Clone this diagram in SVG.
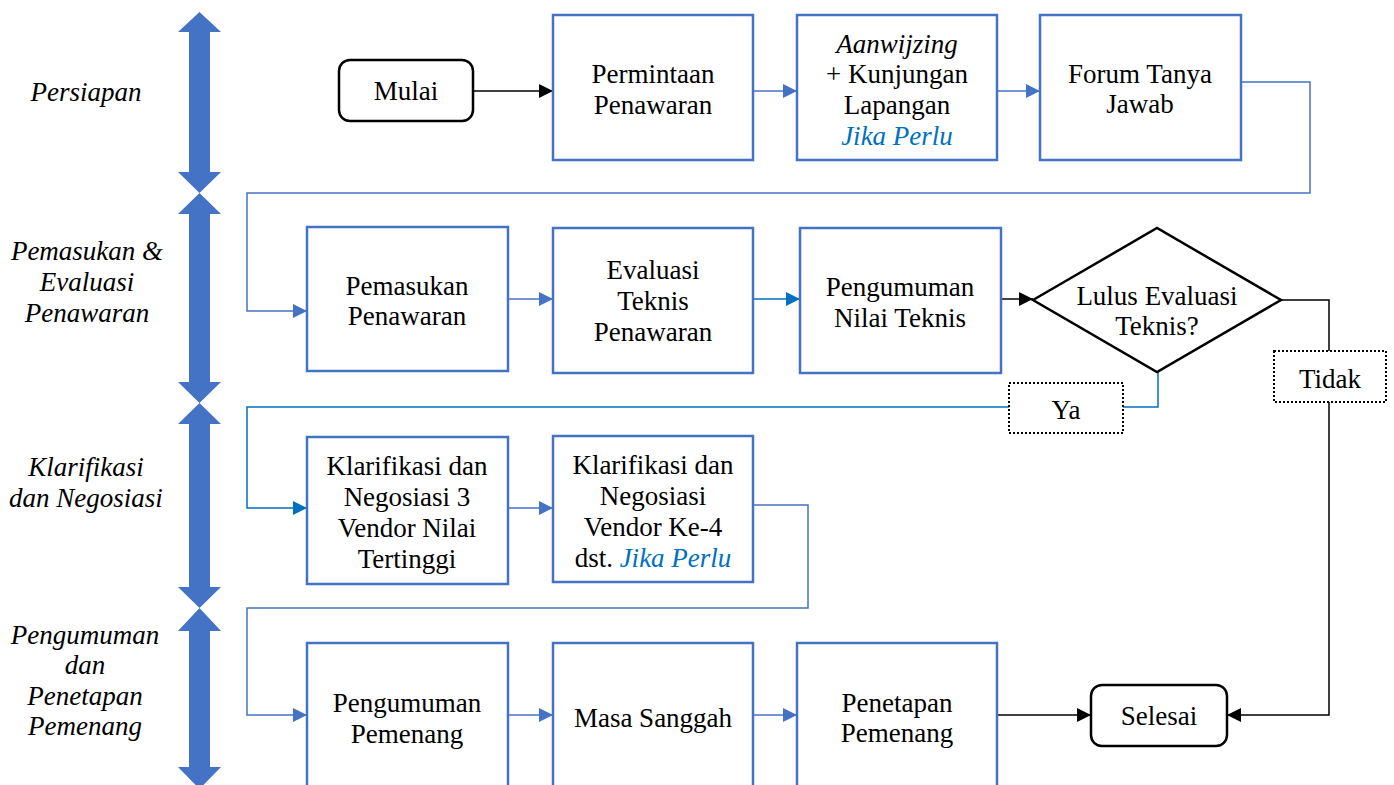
<svg xmlns="http://www.w3.org/2000/svg" width="1394" height="785" viewBox="0 0 1394 785">
<style>
text{font-family:"Liberation Serif","Times New Roman",serif;font-size:27px;fill:#000;text-anchor:middle}
.lbl{font-style:italic}
.it{font-style:italic}
.jp{font-style:italic;fill:#0070C0}
.box{fill:#fff;stroke:#4472C4;stroke-width:2.5}
.term{fill:#fff;stroke:#000;stroke-width:2.5}
.dot{fill:#fff;stroke:#000;stroke-width:2;stroke-dasharray:2 2}
.cb{fill:none;stroke:#4472C4;stroke-width:1.5}
.cc{fill:none;stroke:#0070C0;stroke-width:1.5}
.ck{fill:none;stroke:#000;stroke-width:1.5}
.phase{fill:#4472C4}
</style>
<defs>
<marker id="ab" markerUnits="userSpaceOnUse" markerWidth="14" markerHeight="14" viewBox="0 0 14 14" refX="14" refY="7" orient="auto"><path d="M0,0 L14,7 L0,14 z" fill="#4472C4"/></marker>
<marker id="ac" markerUnits="userSpaceOnUse" markerWidth="14" markerHeight="14" viewBox="0 0 14 14" refX="14" refY="7" orient="auto"><path d="M0,0 L14,7 L0,14 z" fill="#0070C0"/></marker>
<marker id="ak" markerUnits="userSpaceOnUse" markerWidth="14" markerHeight="14" viewBox="0 0 14 14" refX="14" refY="7" orient="auto"><path d="M0,0 L14,7 L0,14 z" fill="#000"/></marker>
</defs>
<rect width="1394" height="785" fill="#fff"/>

<g id="phases">
<polygon class="phase" points="199.5,12 221,32 210,32 210,172 221,172 199.5,193 178,172 189,172 189,32 178,32"/>
<polygon class="phase" points="199.5,193 221,214 210,214 210,382 221,382 199.5,403 178,382 189,382 189,214 178,214"/>
<polygon class="phase" points="199.5,403 221,424 210,424 210,587 221,587 199.5,608 178,587 189,587 189,424 178,424"/>
<polygon class="phase" points="199.5,608 221,631 210,631 210,767 221,767 199.5,789 178,767 189,767 189,631 178,631"/>
<text class="lbl" x="86" y="101">Persiapan</text>
<text class="lbl" x="87" y="260">Pemasukan &amp;</text>
<text class="lbl" x="87" y="291">Evaluasi</text>
<text class="lbl" x="87" y="322">Penawaran</text>
<text class="lbl" x="86" y="476">Klarifikasi</text>
<text class="lbl" x="86" y="507">dan Negosiasi</text>
<text class="lbl" x="85" y="644">Pengumuman</text>
<text class="lbl" x="85" y="674">dan</text>
<text class="lbl" x="85" y="705">Penetapan</text>
<text class="lbl" x="85" y="735">Pemenang</text>
</g>

<g id="connectors">
<path class="ck" d="M473,91 H553" marker-end="url(#ak)"/>
<path class="cb" d="M753,91 H797" marker-end="url(#ab)"/>
<path class="cb" d="M997,91 H1040" marker-end="url(#ab)"/>
<path class="cb" d="M1241,82 H1310 V193 H247 V311 H307" marker-end="url(#ab)"/>
<path class="cb" d="M508,299 H553" marker-end="url(#ab)"/>
<path class="cc" d="M753,299 H800" marker-end="url(#ac)"/>
<path class="ck" d="M1001,299 H1033" marker-end="url(#ak)"/>
<path class="cc" d="M1158,372 V407 H247 V508 H307" marker-end="url(#ac)"/>
<path class="ck" d="M1281,300 H1329 V715 H1227" marker-end="url(#ak)"/>
<path class="cb" d="M508,508 H553" marker-end="url(#ab)"/>
<path class="cb" d="M753,505 H808 V608 H247 V715 H307" marker-end="url(#ab)"/>
<path class="cb" d="M508,715 H553" marker-end="url(#ab)"/>
<path class="cb" d="M753,715 H797" marker-end="url(#ab)"/>
<path class="ck" d="M997,715 H1091" marker-end="url(#ak)"/>
</g>

<g id="mulai"><rect class="term" x="339" y="60" width="134" height="61" rx="11"/><text x="406" y="100">Mulai</text></g>
<g id="permintaan"><rect class="box" x="553" y="15" width="200" height="145"/><text x="653" y="83">Permintaan</text><text x="653" y="114">Penawaran</text></g>
<g id="aanwijzing"><rect class="box" x="797" y="15" width="200" height="145"/><text class="it" x="897" y="53">Aanwijzing</text><text x="897" y="83">+ Kunjungan</text><text x="897" y="114">Lapangan</text><text class="jp" x="897" y="145">Jika Perlu</text></g>
<g id="forum"><rect class="box" x="1040" y="15" width="201" height="145"/><text x="1140" y="83">Forum Tanya</text><text x="1140" y="113">Jawab</text></g>

<g id="pemasukan"><rect class="box" x="307" y="227" width="201" height="144"/><text x="407" y="295">Pemasukan</text><text x="407" y="325">Penawaran</text></g>
<g id="evaluasi"><rect class="box" x="553" y="228" width="200" height="145"/><text x="653" y="279">Evaluasi</text><text x="653" y="310">Teknis</text><text x="653" y="341">Penawaran</text></g>
<g id="pengumuman-nilai"><rect class="box" x="800" y="228" width="201" height="145"/><text x="900" y="296">Pengumuman</text><text x="900" y="327">Nilai Teknis</text></g>
<g id="lulus"><polygon class="term" points="1033,300 1157,228 1281,300 1157,372"/><text x="1157" y="305">Lulus Evaluasi</text><text x="1157" y="335">Teknis?</text></g>
<g id="ya"><rect class="dot" x="1009" y="383" width="114" height="50"/><text x="1066" y="419">Ya</text></g>
<g id="tidak"><rect class="dot" x="1274" y="351" width="112" height="51"/><text x="1330" y="388">Tidak</text></g>

<g id="klarifikasi3"><rect class="box" x="307" y="437" width="201" height="147"/><text x="407" y="475">Klarifikasi dan</text><text x="407" y="506">Negosiasi 3</text><text x="407" y="537">Vendor Nilai</text><text x="407" y="568">Tertinggi</text></g>
<g id="klarifikasi4"><rect class="box" x="553" y="436" width="200" height="146"/><text x="653" y="474">Klarifikasi dan</text><text x="653" y="505">Negosiasi</text><text x="653" y="536">Vendor Ke-4</text><text x="653" y="567">dst. <tspan class="jp">Jika Perlu</tspan></text></g>

<g id="pengumuman-pemenang"><rect class="box" x="307" y="643" width="201" height="150"/><text x="407" y="712">Pengumuman</text><text x="407" y="743">Pemenang</text></g>
<g id="masa-sanggah"><rect class="box" x="553" y="643" width="200" height="150"/><text x="653" y="727">Masa Sanggah</text></g>
<g id="penetapan"><rect class="box" x="797" y="643" width="200" height="150"/><text x="897" y="712">Penetapan</text><text x="897" y="742">Pemenang</text></g>
<g id="selesai"><rect class="term" x="1091" y="685" width="136" height="61" rx="11"/><text x="1159" y="725">Selesai</text></g>
</svg>
